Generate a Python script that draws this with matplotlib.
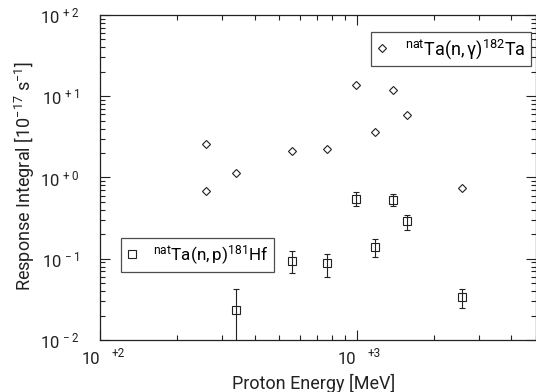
import matplotlib
matplotlib.use('Agg')
import matplotlib.pyplot as plt
from matplotlib.ticker import LogLocator, NullFormatter, FixedLocator, FixedFormatter
from matplotlib.lines import Line2D

plt.rcParams['font.family'] = ['Roboto', 'DejaVu Sans']
plt.rcParams['mathtext.fontset'] = 'custom'
plt.rcParams['mathtext.rm'] = 'Roboto'
plt.rcParams['mathtext.it'] = 'Roboto'

ink = '#222222'

# natTa(n,gamma)182Ta
e_gamma = [258, 258, 338, 558, 765, 991, 1175, 1380, 1566, 2585]
r_gamma = [2.55, 0.69, 1.12, 2.09, 2.27, 13.6, 3.68, 12.1, 5.8, 0.75]

# natTa(n,p)181Hf
e_np = [338, 558, 765, 991, 1175, 1380, 1566, 2585]
r_np = [0.0231, 0.095, 0.0875, 0.55, 0.141, 0.536, 0.288, 0.0334]
err_np = [0.019, 0.028, 0.028, 0.105, 0.035, 0.09, 0.06, 0.0085]

fig = plt.figure(figsize=(5.36, 3.92), dpi=100)
ax = fig.add_axes([0.1866, 0.1327, 0.8134, 0.829])

ax.errorbar(e_np, r_np, yerr=err_np, fmt='s', ms=5.5, mfc='none', mec=ink,
            mew=0.8, ecolor=ink, elinewidth=0.8, capsize=2, capthick=0.8)
ax.plot(e_gamma, r_gamma, 'D', ms=4.0, mfc='none', mec=ink, mew=0.8)

ax.set_xscale('log')
ax.set_yscale('log')
ax.set_xlim(100, 5000)
ax.set_ylim(1e-2, 1e2)

for s in ax.spines.values():
    s.set_color(ink)
    s.set_linewidth(0.9)

ax.tick_params(which='both', direction='in', top=True, right=True, colors=ink, width=0.8)
ax.tick_params(which='major', length=7)
ax.tick_params(which='minor', length=3.5)
ax.tick_params(axis='y', which='major', pad=15, labelsize=12)

ax.yaxis.set_major_locator(FixedLocator([1e-2, 1e-1, 1e0, 1e1, 1e2]))
ax.yaxis.set_major_formatter(FixedFormatter(
    [r'$\mathregular{10^{\,-2}}$', r'$\mathregular{10^{\,-1}}$', r'$\mathregular{10^{\,+0}}$',
     r'$\mathregular{10^{\,+1}}$', r'$\mathregular{10^{\,+2}}$']))
ax.yaxis.set_minor_locator(LogLocator(base=10, subs=range(2, 10)))
ax.yaxis.set_minor_formatter(NullFormatter())

ax.xaxis.set_major_locator(FixedLocator([100, 1000]))
ax.xaxis.set_major_formatter(FixedFormatter(['', '']))
ax.xaxis.set_minor_locator(LogLocator(base=10, subs=range(2, 10)))
ax.xaxis.set_minor_formatter(NullFormatter())

# x tick labels: "10" with a detached exponent
for xv, ex in [(100, '+2'), (1000, '+3')]:
    ax.annotate('10', xy=(xv, 0), xycoords=('data', 'axes fraction'),
                xytext=(0, -17), textcoords='offset points',
                ha='right', va='baseline', fontsize=12, color=ink)
    ax.annotate(ex, xy=(xv, 0), xycoords=('data', 'axes fraction'),
                xytext=(8, -12.5), textcoords='offset points',
                ha='left', va='baseline', fontsize=8.5, color=ink)

ax.set_xlabel('Proton Energy [MeV]', fontsize=13, color=ink)
ax.xaxis.set_label_coords(0.491, -0.105)
ax.set_ylabel(r'Response Integral [10$^{\mathregular{-17}}$ s$^{\mathregular{-1}}$]',
              fontsize=13, color=ink)
ax.yaxis.set_label_coords(-0.145, 0.505)

h_g = Line2D([], [], ls='none', marker='D', ms=4.0, mfc='none', mec=ink, mew=0.8)
h_p = Line2D([], [], ls='none', marker='s', ms=5.5, mfc='none', mec=ink, mew=0.8)

leg_kw = dict(frameon=True, fancybox=False, borderaxespad=0, handlelength=0.7,
              handletextpad=0.9, borderpad=0.3)
leg1 = ax.legend([h_g], [r'$\mathregular{^{nat}Ta(n,\gamma)^{182}Ta}$'], loc='upper right',
                 bbox_to_anchor=(0.9885, 0.948), fontsize=13, **leg_kw)
leg1.get_frame().set_edgecolor(ink)
leg1.get_frame().set_linewidth(0.9)
ax.add_artist(leg1)
leg2 = ax.legend([h_p], [r'$\mathregular{^{nat}Ta(n,p)^{181}Hf}$'], loc='upper left',
                 bbox_to_anchor=(0.048, 0.314), fontsize=12.3, **leg_kw)
leg2.get_frame().set_edgecolor(ink)
leg2.get_frame().set_linewidth(0.9)

fig.savefig('out.png', dpi=100)
